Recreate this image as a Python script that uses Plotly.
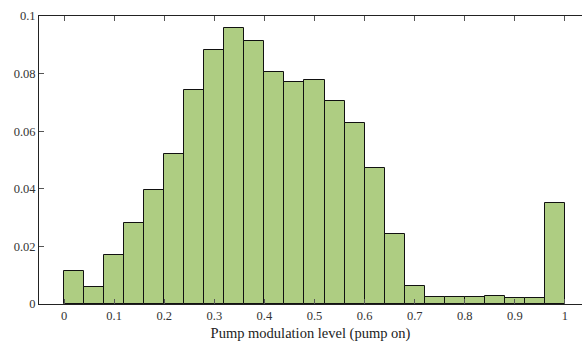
import plotly.graph_objects as go

bin_left = [0.00, 0.04, 0.08, 0.12, 0.16, 0.20, 0.24, 0.28, 0.32, 0.36, 0.40, 0.44, 0.48,
            0.52, 0.56, 0.60, 0.64, 0.68, 0.72, 0.76, 0.80, 0.84, 0.88, 0.92, 0.96]
bin_width = 0.04
density = [0.0116, 0.0058, 0.0169, 0.0280, 0.0397, 0.0522, 0.0743, 0.0882, 0.0957, 0.0912,
           0.0807, 0.0771, 0.0777, 0.0704, 0.0630, 0.0472, 0.0243, 0.0063, 0.0023, 0.0023,
           0.0023, 0.0027, 0.0022, 0.0020, 0.0350]

x_ticks = [0, 0.1, 0.2, 0.3, 0.4, 0.5, 0.6, 0.7, 0.8, 0.9, 1.0]
x_ticktext = ["0", "0.1", "0.2", "0.3", "0.4", "0.5", "0.6", "0.7", "0.8", "0.9", "1"]
y_ticks = [0, 0.02, 0.04, 0.06, 0.08, 0.1]
y_ticktext = ["0", "0.02", "0.04", "0.06", "0.08", "0.1"]

centers = [b + bin_width / 2 for b in bin_left]

fig = go.Figure(go.Bar(
    x=centers, y=density, width=bin_width,
    marker=dict(color="#aecd82", line=dict(color="#111111", width=1)),
))

font = dict(family="Liberation Serif, Times New Roman, serif", size=12.5, color="#333333")
axis_common = dict(showline=True, linecolor="#222222", linewidth=1, ticks="inside",
                   ticklen=5, tickcolor="#555555", tickwidth=1, showgrid=False,
                   zeroline=False, tickfont=font)

fig.update_layout(
    width=582, height=345,
    margin=dict(l=39, r=0, t=16, b=41),
    plot_bgcolor="white", paper_bgcolor="white",
    showlegend=False, bargap=0,
    font=font,
    xaxis=dict(range=[-0.05, 1.034], tickvals=x_ticks, ticktext=x_ticktext,
               mirror="ticks",
               title=dict(text="Pump modulation level (pump on)", font=dict(size=14.5, family=font["family"], color="#222222"), standoff=5),
               **axis_common),
    yaxis=dict(range=[0, 0.1], tickvals=y_ticks, ticktext=y_ticktext, **axis_common),
)

fig.write_html("out.html")
